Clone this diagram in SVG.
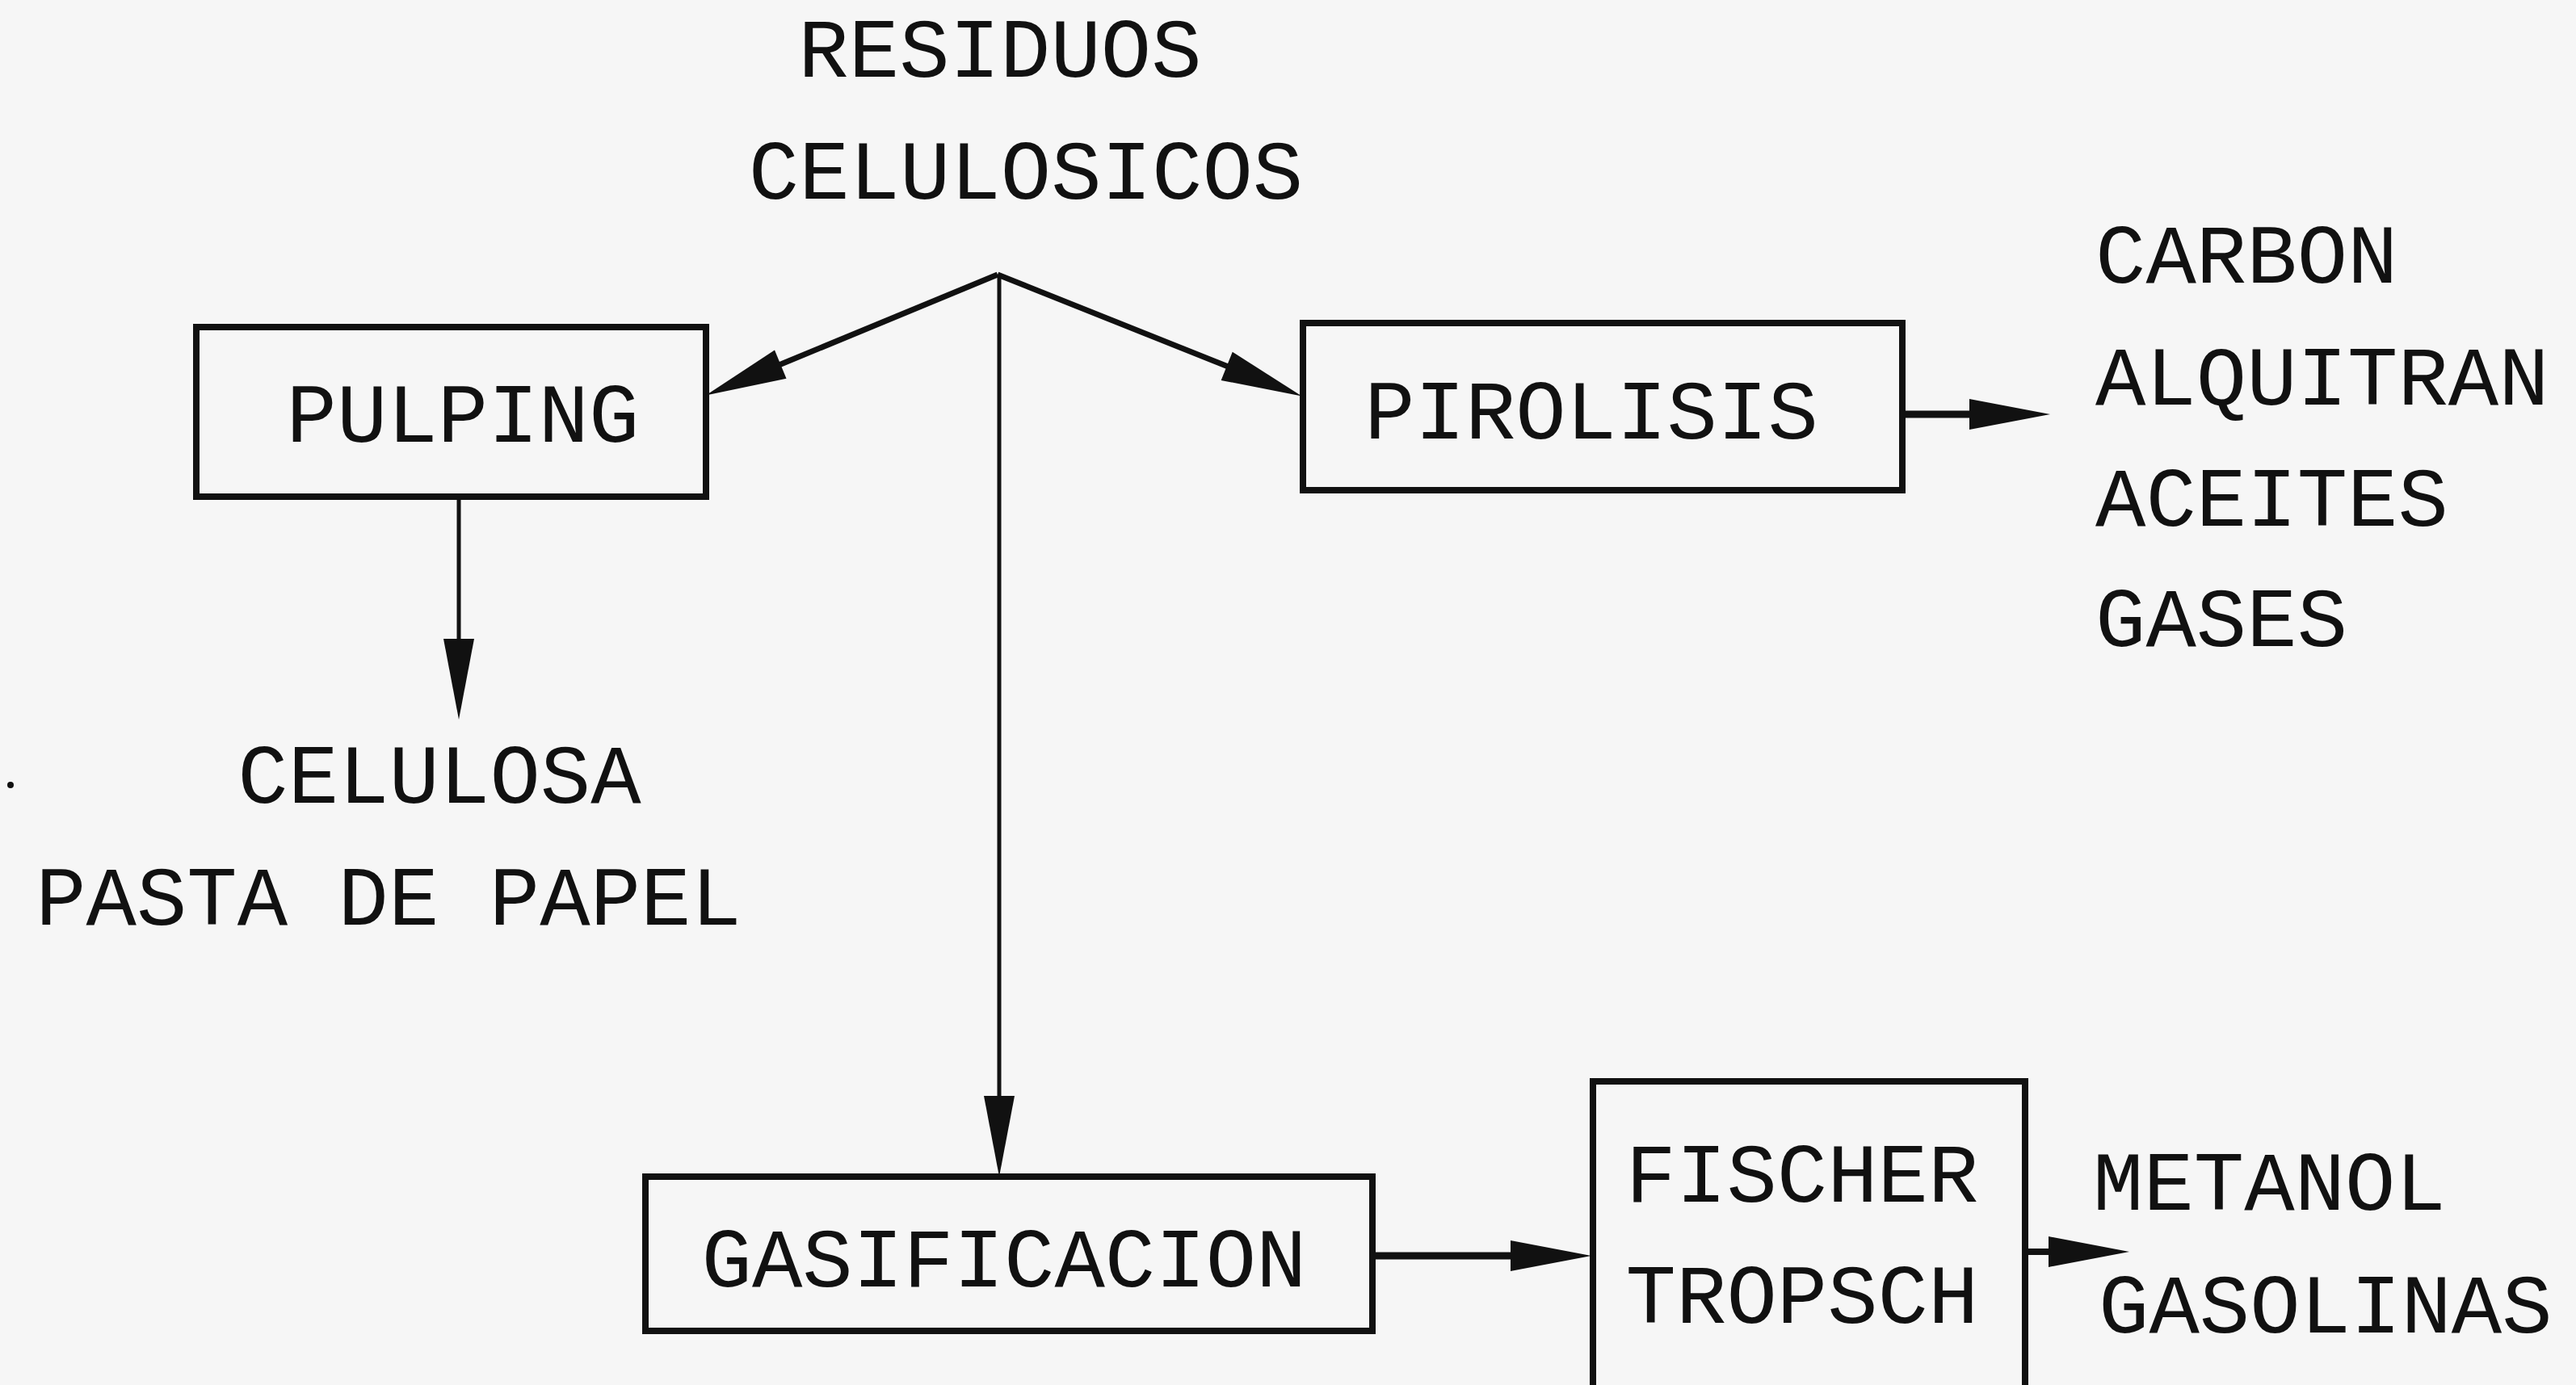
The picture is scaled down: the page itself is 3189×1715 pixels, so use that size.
<svg xmlns="http://www.w3.org/2000/svg" width="3189" height="1715" viewBox="0 0 3189 1715">
<style>
  .bg { fill: #f6f6f6; }
  .box { fill: none; stroke: #111; stroke-width: 8; }
  .lbl { font-family: "Liberation Mono", "Courier New", monospace; font-size: 104px; fill: #111; }
  .mid { text-anchor: middle; }
  .conn { stroke: #111; fill: none; }
</style>
<defs>
  <marker id="ah" markerUnits="userSpaceOnUse" markerWidth="110" markerHeight="44" refX="10" refY="20" orient="auto" overflow="visible">
    <path d="M0,1 L100,20 L0,39 Z" fill="#111"/>
  </marker>
</defs>
<rect class="bg" x="0" y="0" width="3189" height="1715"/>

<g id="source">
  <text class="lbl mid" x="1238" y="95">RESIDUOS</text>
  <text class="lbl mid" x="1270" y="246">CELULOSICOS</text>
</g>

<g id="pulping">
  <rect class="box" x="243" y="405" width="631" height="210"/>
  <text class="lbl mid" x="573" y="547">PULPING</text>
</g>

<g id="pirolisis">
  <rect class="box" x="1613" y="400" width="742" height="207"/>
  <text class="lbl mid" x="1970" y="543">PIROLISIS</text>
</g>

<g id="pirolisis-products">
  <text class="lbl" x="2594" y="350">CARBON</text>
  <text class="lbl" x="2594" y="501">ALQUITRAN</text>
  <text class="lbl" x="2594" y="651">ACEITES</text>
  <text class="lbl" x="2594" y="800">GASES</text>
</g>

<g id="pulping-products">
  <text class="lbl mid" x="544" y="994">CELULOSA</text>
  <text class="lbl mid" x="481" y="1145">PASTA DE PAPEL</text>
</g>

<g id="gasificacion">
  <rect class="box" x="799" y="1457" width="900" height="191"/>
  <text class="lbl mid" x="1243" y="1593">GASIFICACION</text>
</g>

<g id="fischer-tropsch">
  <rect class="box" x="1972" y="1339" width="535" height="390"/>
  <text class="lbl mid" x="2231" y="1488">FISCHER</text>
  <text class="lbl mid" x="2231" y="1638">TROPSCH</text>
</g>

<g id="ft-products">
  <text class="lbl" x="2591" y="1498">METANOL</text>
  <text class="lbl" x="2598" y="1650">GASOLINAS</text>
</g>

<g id="connectors">
  <line class="conn" stroke-width="7" x1="1235" y1="340" x2="957" y2="455" marker-end="url(#ah)"/>
  <line class="conn" stroke-width="7" x1="1235" y1="340" x2="1528" y2="457" marker-end="url(#ah)"/>
  <line class="conn" stroke-width="5" x1="1237" y1="340" x2="1237" y2="1367" marker-end="url(#ah)"/>
  <line class="conn" stroke-width="5" x1="568" y1="617" x2="568" y2="801" marker-end="url(#ah)"/>
  <line class="conn" stroke-width="9" x1="2355" y1="513" x2="2448" y2="513" marker-end="url(#ah)"/>
  <line class="conn" stroke-width="9" x1="1699" y1="1555" x2="1880" y2="1555" marker-end="url(#ah)"/>
  <line class="conn" stroke-width="8" x1="2507" y1="1550" x2="2546" y2="1550" marker-end="url(#ah)"/>
</g>

<circle cx="13" cy="972" r="4" fill="#111"/>
</svg>
